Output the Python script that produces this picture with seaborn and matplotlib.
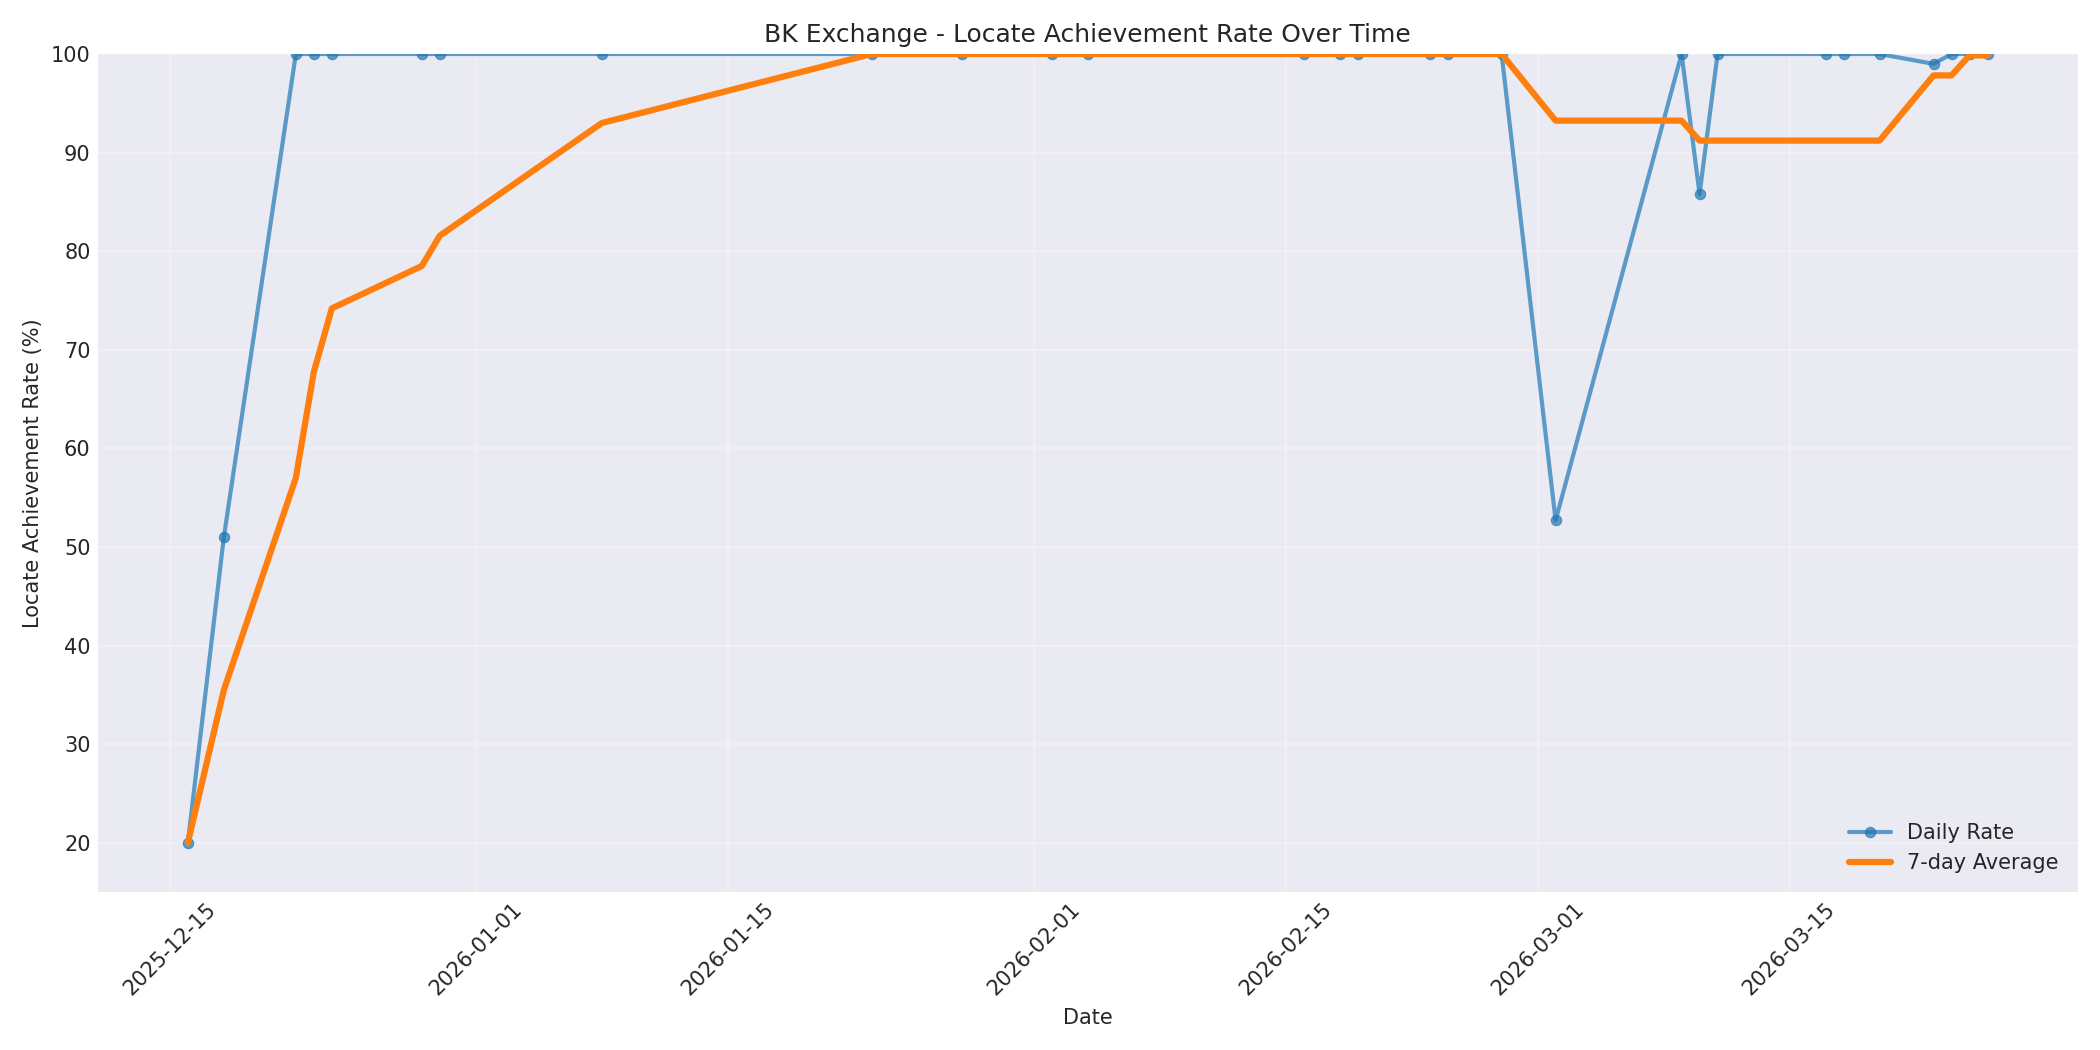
import pandas as pd
import seaborn as sns
import matplotlib
matplotlib.use('Agg')
import matplotlib.pyplot as plt

# data
dates = ['2025-12-16', '2025-12-18', '2025-12-22', '2025-12-23', '2025-12-24',
         '2025-12-29', '2025-12-30', '2026-01-08', '2026-01-23', '2026-01-28',
         '2026-02-02', '2026-02-04', '2026-02-16', '2026-02-18', '2026-02-19',
         '2026-02-23', '2026-02-24', '2026-02-27', '2026-03-02', '2026-03-09',
         '2026-03-10', '2026-03-11', '2026-03-17', '2026-03-18', '2026-03-20',
         '2026-03-23', '2026-03-24', '2026-03-25', '2026-03-26']
rates = [20.0, 51.0, 100, 100, 100,
         100, 100, 100, 100, 100,
         100, 100, 100, 100, 100,
         100, 100, 100, 52.7, 100,
         85.8, 100, 100, 100, 100,
         99.0, 100, 100, 100]

TITLE = 'BK Exchange - Locate Achievement Rate Over Time'

plt.style.use('seaborn-v0_8-darkgrid')
plt.rcParams['font.family'] = ['DejaVu Sans']

df = pd.DataFrame({'date': pd.to_datetime(dates), 'rate': rates})
df['avg7'] = df['rate'].rolling(7, min_periods=1).mean()

fig, ax = plt.subplots(figsize=(14, 7), dpi=150)

sns.lineplot(data=df, x='date', y='rate', ax=ax, marker='o', markersize=5,
             linewidth=2, alpha=0.7, color='#1f77b4', markeredgecolor='#1f77b4',
             markeredgewidth=0.5, label='Daily Rate')
sns.lineplot(data=df, x='date', y='avg7', ax=ax, linewidth=3,
             color='#ff7f0e', label='7-day Average')

ax.set_title(TITLE, fontsize=12)
ax.set_xlabel('Date')
ax.set_ylabel('Locate Achievement Rate (%)')
ax.set_ylim(15, 100)
ax.grid(True, alpha=0.3)
ax.legend(loc='lower right')
plt.xticks(rotation=45)

plt.tight_layout()
plt.savefig('out.png', dpi=150)
